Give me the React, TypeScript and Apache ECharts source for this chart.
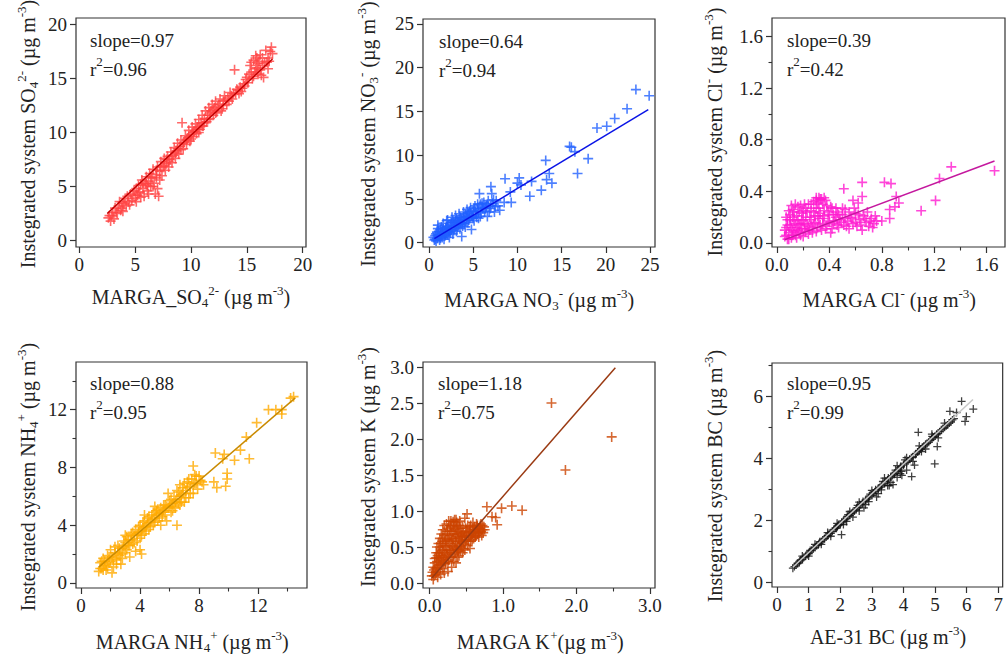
import React, { useEffect, useRef } from 'react';
import * as echarts from 'echarts';

const FONT = '"Liberation Serif", "Times New Roman", serif';
const PLUS = 'path://M4.2,0H5.8V4.2H10V5.8H5.8V10H4.2V5.8H0V4.2H4.2Z';

// ---------- Panel 1: SO4 ----------
const so4XTicks = [0, 5, 10, 15, 20];
const so4YTicks = [0, 5, 10, 15, 20];
const so4Points: number[][] = [
  [2.6,2.1],[2.8,1.8],[2.9,2.3],[3.1,2.0],[3.3,2.6],[3.5,3.2],[3.7,2.8],[3.9,3.5],[4.1,3.9],[4.2,3.2],
  [4.4,3.6],[4.6,4.3],[4.7,3.7],[4.9,4.6],[5.0,3.9],[5.2,4.2],[5.3,5.1],[5.4,4.5],[5.6,5.6],[5.7,4.8],
  [5.8,4.1],[5.9,5.3],[6.0,5.9],[6.1,4.6],[6.2,5.5],[6.3,6.2],[6.4,5.0],[6.5,5.8],[6.6,6.6],[6.7,5.3],
  [6.8,4.3],[6.9,6.1],[7.0,4.8],[7.0,6.8],[7.1,4.1],[7.2,6.4],[7.3,7.3],[7.4,6.0],[7.5,6.9],[7.6,7.6],
  [7.7,6.5],[7.8,7.1],[7.9,7.8],[8.0,6.8],[8.1,7.5],[8.2,8.2],[8.3,7.2],[8.4,7.9],[8.5,8.6],[8.6,7.6],
  [8.7,8.3],[8.8,9.0],[8.9,8.0],[9.0,8.7],[9.1,9.3],[9.2,10.9],[9.3,8.5],[9.4,9.1],[9.5,9.7],[9.6,8.9],
  [9.7,9.5],[9.8,10.2],[9.9,9.2],[10.0,9.8],[10.1,10.5],[10.2,9.6],[10.3,10.1],[10.4,10.8],[10.5,9.9],[10.6,10.5],
  [10.7,11.2],[10.8,10.3],[10.9,10.9],[11.0,11.6],[11.1,10.6],[11.2,11.3],[11.3,12.0],[11.4,11.0],[11.5,11.6],[11.6,12.3],
  [11.7,11.3],[11.8,12.0],[11.9,12.6],[12.0,11.6],[12.1,12.3],[12.2,12.9],[12.3,11.9],[12.5,12.6],[12.6,13.1],[12.8,12.2],
  [12.9,12.9],[13.0,13.4],[13.2,12.6],[13.3,13.2],[13.5,13.7],[13.7,13.1],[13.9,15.8],[14.0,13.6],[14.2,13.9],[14.4,14.2],
  [14.5,13.8],[14.7,14.5],[14.9,14.9],[15.1,14.6],[15.2,15.4],[15.3,16.2],[15.5,15.0],[15.6,16.7],[15.7,15.6],[15.8,17.1],
  [15.9,16.0],[16.0,15.4],[16.1,16.6],[16.2,17.2],[16.3,15.3],[16.4,16.9],[16.5,15.1],[16.6,16.4],[16.7,17.6],[16.9,16.9],
  [17.2,17.9],[17.3,17.3]
];
const so4PointsB: number[][] = [
  [3.0,2.6],[3.2,3.0],[3.4,2.5],[3.6,3.6],[3.8,3.0],[4.0,3.4],[4.3,4.1],[4.5,3.3],[4.8,4.2],[5.1,4.8],
  [5.1,3.6],[5.5,5.2],[5.5,4.0],[5.7,5.3],[6.0,5.2],[6.2,4.3],[6.4,5.9],[6.6,5.0],[6.9,6.5],[7.2,5.6],
  [7.3,6.8],[7.6,6.9],[7.8,7.5],[8.0,7.3],[8.3,7.8],[8.6,8.1],[8.8,8.5],[9.1,8.4],[9.3,9.0],[9.6,9.3],
  [9.8,9.6],[10.0,9.4],[10.2,10.0],[10.5,10.3],[10.7,10.0],[11.0,10.6],[11.2,10.9],[11.5,11.2],[11.7,11.8],[12.0,12.1],
  [12.2,11.8],[12.4,12.4],[12.7,12.0],[12.9,12.5],[13.1,13.0],[13.4,12.9],[13.6,13.4],[13.8,13.6],[14.1,14.0],[14.3,13.6],
  [14.6,14.1],[14.8,14.3],[15.0,15.1],[15.4,15.6],[15.6,15.2],[15.8,15.9],[16.0,16.4],[16.2,15.8],[16.4,16.2],[16.8,16.5],
  [17.0,16.6],[16.9,15.9],[15.9,16.9],[15.4,16.5],[17.1,17.5],[2.7,2.3],[3.9,2.7],[5.3,4.4],[6.1,5.1],[6.9,5.8]
];
const so4Fit: number[][] = [[2.5, 2.5], [17.3, 16.8]];

// ---------- Panel 2: NO3 ----------
const no3XTicks = [0, 5, 10, 15, 20, 25];
const no3YTicks = [0, 5, 10, 15, 20, 25];
const no3Points: number[][] = [
  [0.6,0.3],[0.7,0.8],[0.8,0.2],[0.9,1.2],[1.0,0.5],[1.0,2.0],[1.1,0.9],[1.2,0.3],[1.3,1.5],[1.4,0.7],
  [1.5,1.1],[1.6,2.2],[1.7,0.4],[1.8,1.4],[1.9,0.9],[2.0,1.8],[2.1,2.6],[2.2,1.2],[2.3,0.6],[2.4,2.0],
  [2.5,1.5],[2.6,2.9],[2.7,1.0],[2.8,2.3],[2.9,1.7],[3.0,3.1],[3.1,1.3],[3.2,2.5],[3.3,2.0],[3.4,3.3],
  [3.5,1.6],[3.6,2.8],[3.7,0.7],[3.8,2.2],[3.9,3.5],[4.0,2.6],[4.1,1.8],[4.2,3.0],[4.3,3.8],[4.4,2.3],
  [4.5,3.3],[4.6,2.8],[4.7,4.0],[4.8,1.5],[4.9,3.0],[5.0,3.6],[5.1,2.5],[5.2,4.2],[5.3,3.2],[5.5,3.8],
  [5.6,2.8],[5.7,5.6],[5.8,4.4],[5.9,3.4],[6.0,4.0],[6.2,4.6],[6.3,3.6],[6.5,4.2],[6.6,3.0],[6.7,4.8],
  [6.9,3.9],[7.0,6.4],[7.1,5.6],[7.2,4.5],[7.4,3.5],[7.6,4.8],[7.8,4.2],[8.0,3.7],[8.5,4.6],[8.6,7.3],
  [9.2,5.8],[9.3,4.6],[10.0,6.8],[10.2,7.4],[10.4,6.6],[11.4,5.3],[11.6,7.0],[12.7,6.0],[13.2,9.4],[13.3,7.2],
  [13.6,7.9],[13.9,6.8],[15.9,11.0],[16.1,10.9],[16.5,10.4],[16.8,7.9],[18.0,9.6],[19.0,13.1],[20.1,13.3],[21.0,14.2],
  [22.4,15.3],[23.4,17.5],[24.9,16.8]
];
const no3PointsB: number[][] = [
  [0.5,0.6],[0.7,0.4],[0.8,1.0],[0.9,0.5],[1.1,1.3],[1.2,0.8],[1.3,0.5],[1.4,1.2],[1.5,0.6],[1.6,1.6],
  [1.7,1.1],[1.8,0.8],[1.9,1.7],[2.0,1.2],[2.1,0.9],[2.2,1.9],[2.3,1.5],[2.4,1.1],[2.5,2.3],[2.6,1.8],
  [2.7,2.5],[2.8,1.4],[2.9,2.2],[3.0,1.9],[3.1,2.7],[3.2,1.7],[3.3,2.4],[3.4,2.1],[3.5,2.9],[3.6,2.2],
  [3.7,2.6],[3.8,1.9],[3.9,2.9],[4.0,2.2],[4.1,3.2],[4.2,2.5],[4.3,2.9],[4.5,2.6],[4.6,3.6],[4.8,3.1],
  [5.0,2.8],[5.1,3.9],[5.3,3.5],[5.4,2.9],[5.6,3.6],[5.8,3.0],[6.0,4.5],[6.1,3.9],[6.4,4.0],[6.6,4.4],
  [6.8,3.5],[7.0,4.2],[7.3,4.9],[7.5,4.1],[1.0,1.6],[1.4,1.8],[2.0,2.5],[3.0,2.4],[4.4,3.4],[5.5,4.4]
];
const no3Fit: number[][] = [[0.6, 0.46], [24.8, 15.2]];

// ---------- Panel 3: Cl ----------
const clXTicks = [0, 0.4, 0.8, 1.2, 1.6];
const clXMinor = [0.2, 0.6, 1.0, 1.4];
const clYTicks = [0, 0.4, 0.8, 1.2, 1.6];
const clYMinor = [0.2, 0.6, 1.0, 1.4];
const clPoints: number[][] = [
  [0.06,0.05],[0.07,0.12],[0.08,0.03],[0.08,0.18],[0.09,0.08],[0.10,0.22],[0.10,0.14],[0.11,0.04],[0.12,0.10],[0.12,0.26],
  [0.13,0.17],[0.14,0.06],[0.15,0.21],[0.15,0.12],[0.16,0.28],[0.17,0.08],[0.18,0.15],[0.19,0.23],[0.20,0.05],[0.20,0.18],
  [0.21,0.11],[0.22,0.27],[0.23,0.14],[0.24,0.07],[0.25,0.20],[0.26,0.30],[0.27,0.12],[0.28,0.24],[0.29,0.16],[0.30,0.09],
  [0.30,0.33],[0.31,0.21],[0.32,0.27],[0.33,0.14],[0.34,0.34],[0.35,0.19],[0.36,0.25],[0.37,0.11],[0.38,0.29],[0.39,0.17],
  [0.40,0.22],[0.41,0.08],[0.42,0.27],[0.43,0.15],[0.45,0.20],[0.46,0.24],[0.47,0.12],[0.48,0.18],[0.50,0.22],[0.51,0.14],
  [0.52,0.26],[0.54,0.17],[0.55,0.11],[0.56,0.20],[0.58,0.15],[0.60,0.23],[0.61,0.13],[0.63,0.18],[0.65,0.10],[0.66,0.21],
  [0.68,0.16],[0.70,0.13],[0.72,0.19],[0.74,0.15],[0.33,0.34],[0.51,0.42],[0.58,0.33],[0.62,0.31],[0.65,0.47],[0.65,0.36],
  [0.75,0.21],[0.80,0.17],[0.82,0.47],[0.86,0.19],[0.86,0.26],[0.87,0.46],[0.90,0.28],[0.91,0.36],[0.93,0.31],[1.10,0.25],
  [1.21,0.33],[1.24,0.50],[1.33,0.59],[1.66,0.56]
];
const clPointsB: number[][] = [
  [0.06,0.10],[0.07,0.06],[0.07,0.20],[0.08,0.14],[0.09,0.25],[0.09,0.03],[0.10,0.18],[0.11,0.12],[0.11,0.29],[0.12,0.06],
  [0.12,0.20],[0.13,0.24],[0.13,0.09],[0.14,0.15],[0.14,0.30],[0.15,0.04],[0.16,0.18],[0.16,0.10],[0.17,0.24],[0.17,0.14],
  [0.18,0.06],[0.18,0.29],[0.19,0.11],[0.19,0.18],[0.20,0.25],[0.21,0.15],[0.21,0.30],[0.22,0.09],[0.22,0.20],[0.23,0.24],
  [0.24,0.13],[0.24,0.30],[0.25,0.10],[0.26,0.18],[0.26,0.25],[0.27,0.08],[0.28,0.15],[0.28,0.32],[0.29,0.21],[0.30,0.27],
  [0.31,0.12],[0.32,0.19],[0.32,0.35],[0.33,0.23],[0.34,0.10],[0.35,0.30],[0.35,0.15],[0.36,0.21],[0.37,0.33],[0.38,0.13],
  [0.39,0.24],[0.40,0.16],[0.41,0.28],[0.42,0.11],[0.43,0.22],[0.44,0.17],[0.45,0.27],[0.46,0.14],[0.47,0.22],[0.49,0.16],
  [0.50,0.27],[0.52,0.19],[0.53,0.13],[0.55,0.24],[0.57,0.19],[0.59,0.27],[0.60,0.16],[0.62,0.22],[0.64,0.14],[0.67,0.19],
  [0.69,0.24],[0.71,0.17],[0.73,0.12],[0.76,0.17],[0.30,0.35],[0.31,0.31],[0.36,0.35]
];
const clFit: number[][] = [[0.06, 0.026], [1.66, 0.635]];

// ---------- Panel 4: NH4 ----------
const nh4XTicks = [0, 4, 8, 12];
const nh4XMinor = [2, 6, 10, 14];
const nh4YTicks = [0, 4, 8, 12];
const nh4YMinor = [2, 6, 10, 14];
const nh4Points: number[][] = [
  [1.2,0.8],[1.3,1.4],[1.4,1.0],[1.5,1.7],[1.6,1.2],[1.7,0.9],[1.8,1.9],[1.9,1.4],[2.0,2.3],[2.1,0.7],
  [2.1,1.8],[2.2,1.1],[2.3,2.1],[2.4,1.6],[2.5,2.6],[2.6,1.9],[2.7,1.3],[2.8,2.4],[2.9,2.9],[3.0,2.1],
  [3.1,3.2],[3.2,2.6],[3.3,1.8],[3.4,3.0],[3.5,3.5],[3.6,2.8],[3.7,2.2],[3.8,3.3],[3.9,3.9],[4.0,3.1],
  [4.1,3.6],[4.2,4.2],[4.3,3.4],[4.4,3.9],[4.5,4.5],[4.6,3.7],[4.7,4.2],[4.8,4.7],[4.9,4.0],[5.0,4.5],
  [5.1,5.0],[5.2,4.3],[5.3,4.8],[5.4,5.2],[5.5,4.6],[5.6,5.0],[5.7,5.4],[5.8,4.3],[5.9,5.2],[6.0,5.7],
  [6.1,4.9],[6.2,5.5],[6.3,6.0],[6.4,5.2],[6.5,5.8],[6.6,6.3],[6.7,5.4],[6.8,6.1],[6.9,6.6],[7.0,5.6],
  [7.1,6.4],[7.2,7.0],[7.3,5.9],[7.4,6.7],[7.5,7.2],[7.6,6.2],[7.7,6.9],[7.8,7.4],[7.9,6.5],[8.1,7.1],
  [4.0,2.3],[4.1,2.0],[6.5,4.0],[7.6,8.1],[8.3,6.8],[9.0,7.0],[9.1,9.0],[9.2,6.6],[9.6,8.6],[9.7,8.9],
  [9.8,6.7],[9.9,7.2],[9.9,7.6],[10.4,8.5],[10.8,9.2],[11.2,10.1],[11.4,8.6],[11.9,11.1],[12.7,12.0],[13.2,12.0],
  [13.6,11.7],[13.6,12.0],[14.2,12.8],[14.4,12.9]
];
const nh4PointsB: number[][] = [
  [1.3,1.0],[1.4,1.5],[1.5,0.9],[1.6,1.5],[1.7,1.3],[1.8,1.1],[1.9,1.8],[2.0,1.5],[2.2,1.7],[2.3,2.5],
  [2.4,1.3],[2.5,2.0],[2.6,2.4],[2.7,2.0],[2.8,1.7],[2.9,2.5],[3.0,2.8],[3.1,2.3],[3.2,3.0],[3.3,2.6],
  [3.4,3.4],[3.5,2.7],[3.6,3.3],[3.7,3.7],[3.8,2.9],[3.9,3.5],[4.0,4.0],[4.1,3.3],[4.2,3.8],[4.3,4.3],
  [4.4,3.6],[4.5,4.1],[4.6,4.6],[4.7,3.9],[4.8,4.4],[4.9,4.9],[5.0,4.2],[5.1,4.7],[5.2,5.1],[5.3,4.5],
  [5.5,4.9],[5.6,5.4],[5.7,4.7],[5.8,5.3],[6.0,5.3],[6.1,5.8],[6.2,5.0],[6.4,5.6],[6.5,6.4],[6.6,5.5],
  [6.7,6.0],[6.8,5.6],[6.9,6.2],[7.0,6.9],[7.1,5.9],[7.2,6.6],[7.3,7.2],[7.4,6.2],[7.6,6.8],[7.8,6.9],
  [8.0,7.4],[8.2,7.0],[5.4,4.0],[6.3,5.3],[7.7,7.5],[3.0,3.3],[4.3,4.7],[5.0,5.3],[5.9,6.2],[6.7,6.8]
];
const nh4Fit: number[][] = [[1.2, 1.1], [14.5, 12.8]];

// ---------- Panel 5: K ----------
const kXTicks = [0, 1, 2, 3];
const kXMinor = [0.5, 1.5, 2.5];
const kYTicks = [0, 0.5, 1, 1.5, 2, 2.5, 3];
const kPoints: number[][] = [
  [0.03,0.10],[0.05,0.05],[0.06,0.18],[0.07,0.28],[0.08,0.12],[0.09,0.35],[0.10,0.22],[0.11,0.08],[0.12,0.42],[0.12,0.30],
  [0.13,0.16],[0.14,0.50],[0.15,0.25],[0.16,0.38],[0.17,0.58],[0.18,0.20],[0.18,0.46],[0.19,0.32],[0.20,0.66],[0.21,0.27],
  [0.22,0.52],[0.23,0.40],[0.24,0.72],[0.25,0.30],[0.26,0.60],[0.27,0.45],[0.28,0.80],[0.29,0.36],[0.30,0.68],[0.31,0.52],
  [0.32,0.85],[0.33,0.40],[0.34,0.74],[0.35,0.58],[0.36,0.88],[0.37,0.47],[0.38,0.80],[0.39,0.62],[0.40,0.52],[0.41,0.86],
  [0.42,0.45],[0.43,0.70],[0.44,0.56],[0.45,0.78],[0.46,0.48],[0.47,0.64],[0.48,0.90],[0.49,0.58],[0.50,0.72],[0.51,0.96],
  [0.52,0.52],[0.53,0.66],[0.55,0.78],[0.56,0.58],[0.58,0.70],[0.59,0.84],[0.60,0.62],[0.62,0.74],[0.63,0.66],[0.65,0.80],
  [0.66,0.70],[0.68,0.76],[0.70,0.82],[0.72,0.74],[0.74,0.78],[0.45,0.42],[0.38,0.36],[0.30,0.22],[0.25,0.16],[0.55,0.48],
  [0.78,1.06],[0.85,0.92],[0.90,0.91],[0.92,0.81],[0.98,1.04],[1.12,1.07],[1.26,1.01],[1.66,2.50],[1.85,1.57],[2.48,2.03]
];
const kPointsB: number[][] = [
  [0.04,0.15],[0.05,0.22],[0.06,0.10],[0.07,0.34],[0.08,0.20],[0.09,0.42],[0.09,0.15],[0.10,0.30],[0.10,0.50],[0.11,0.38],
  [0.11,0.20],[0.12,0.55],[0.13,0.35],[0.13,0.25],[0.14,0.62],[0.14,0.42],[0.15,0.32],[0.15,0.55],[0.16,0.68],[0.16,0.25],
  [0.17,0.45],[0.17,0.36],[0.18,0.62],[0.18,0.74],[0.19,0.52],[0.19,0.28],[0.20,0.42],[0.20,0.80],[0.21,0.58],[0.21,0.35],
  [0.22,0.68],[0.22,0.28],[0.23,0.50],[0.23,0.82],[0.24,0.38],[0.24,0.60],[0.25,0.76],[0.25,0.45],[0.26,0.86],[0.26,0.32],
  [0.27,0.66],[0.27,0.55],[0.28,0.42],[0.28,0.72],[0.29,0.58],[0.29,0.86],[0.30,0.46],[0.30,0.78],[0.31,0.62],[0.31,0.36],
  [0.32,0.72],[0.32,0.50],[0.33,0.80],[0.33,0.62],[0.34,0.48],[0.34,0.88],[0.35,0.68],[0.35,0.42],[0.36,0.76],[0.36,0.55],
  [0.37,0.84],[0.37,0.65],[0.38,0.50],[0.38,0.72],[0.39,0.44],[0.40,0.68],[0.40,0.80],[0.41,0.58],[0.42,0.64],[0.42,0.76],
  [0.43,0.50],[0.44,0.66],[0.45,0.60],[0.46,0.70],[0.47,0.54],[0.48,0.66],[0.49,0.76],[0.50,0.60],[0.51,0.68],[0.52,0.80],
  [0.53,0.58],[0.54,0.72],[0.55,0.64],[0.56,0.80],[0.57,0.66],[0.58,0.60],[0.59,0.74],[0.60,0.70],[0.61,0.78],[0.62,0.64],
  [0.63,0.72],[0.64,0.82],[0.65,0.68],[0.66,0.76],[0.67,0.64],[0.68,0.70],[0.69,0.80],[0.70,0.72],[0.71,0.66],[0.72,0.80],
  [0.73,0.70],[0.75,0.74],[0.20,0.14],[0.15,0.12],[0.33,0.30],[0.40,0.38],[0.48,0.46],[0.36,0.28]
];
const kFit: number[][] = [[0.03, 0.07], [2.53, 2.99]];

// ---------- Panel 6: BC ----------
const bcXTicks = [0, 1, 2, 3, 4, 5, 6, 7];
const bcYTicks = [0, 2, 4, 6];
const bcYMinor = [1, 3, 5, 7];
const bcPoints: number[][] = [
  [0.5,0.45],[0.6,0.55],[0.7,0.62],[0.75,0.72],[0.8,0.74],[0.9,0.83],[1.0,0.92],[1.05,1.02],[1.1,1.03],[1.2,1.12],
  [1.3,1.20],[1.35,1.30],[1.4,1.31],[1.5,1.40],[1.6,1.50],[1.65,1.58],[1.7,1.57],[1.8,1.70],[1.9,1.78],[1.95,1.86],
  [2.0,1.86],[2.1,1.98],[2.2,2.06],[2.25,2.18],[2.3,2.15],[2.4,2.26],[2.5,2.34],[2.55,2.48],[2.6,2.42],[2.7,2.55],
  [2.75,2.40],[2.8,2.64],[2.9,2.72],[2.95,2.84],[3.0,2.80],[3.1,2.92],[3.15,2.75],[3.2,3.02],[3.3,3.10],[3.35,3.25],
  [3.4,3.18],[3.5,3.30],[3.55,3.12],[3.6,3.40],[3.7,3.48],[3.75,3.62],[3.8,3.56],[3.9,3.70],[3.95,3.45],[4.0,3.78],
  [4.05,3.95],[4.1,3.86],[4.2,3.98],[4.3,4.05],[4.35,3.78],[4.4,4.15],[4.5,4.25],[4.6,4.36],[4.7,4.45],[4.8,4.52],
  [4.9,4.62],[5.0,4.72],[5.1,4.80],[5.2,4.92],[5.3,5.00],[5.4,5.08],[5.5,5.18],[5.6,5.28],[1.88,1.74],[2.04,1.53],
  [3.67,3.15],[3.94,3.58],[4.26,3.41],[4.47,4.84],[4.57,4.22],[4.91,4.71],[4.99,3.82],[5.07,4.38],[5.47,5.52],[5.68,5.48],
  [5.84,5.84],[5.95,5.19],[5.99,5.35],[6.21,5.59]
];
const bcPointsB: number[][] = [
  [0.55,0.50],[0.65,0.60],[0.72,0.68],[0.85,0.80],[0.95,0.88],[1.02,0.97],[1.15,1.08],[1.25,1.18],[1.32,1.24],[1.45,1.36],
  [1.55,1.46],[1.62,1.52],[1.75,1.64],[1.85,1.74],[1.92,1.82],[2.05,1.94],[2.15,2.02],[2.22,2.12],[2.35,2.22],[2.45,2.30],
  [2.52,2.40],[2.65,2.50],[2.72,2.60],[2.85,2.68],[2.92,2.78],[3.05,2.88],[3.12,2.98],[3.25,3.06],[3.32,3.14],[3.45,3.26],
  [3.52,3.36],[3.65,3.44],[3.72,3.52],[3.85,3.62],[3.92,3.74],[4.02,3.82],[4.15,3.92],[4.25,4.02],[4.38,4.12],[4.45,4.20],
  [4.55,4.30],[4.65,4.40],[4.75,4.48],[4.85,4.58],[4.95,4.68],[5.05,4.78],[5.15,4.86],[5.25,4.96],[5.35,5.05],[5.45,5.14],
  [5.55,5.24],[2.6,2.30],[2.9,2.60],[3.3,2.98],[3.5,3.12],[3.8,3.38],[4.1,3.62],[2.2,1.96],
  [0.8,0.84],[1.0,0.84],[1.2,1.22],[1.4,1.22],[1.6,1.60],[1.7,1.48],[1.9,1.90],[2.1,1.86],[2.3,2.28],[2.4,2.10],
  [2.6,2.58],[2.8,2.50],[3.0,2.96],[3.2,2.86],[3.4,3.36],[3.6,3.22],[3.8,3.76],[3.9,3.50],[4.1,4.02],[4.3,3.90],
  [4.5,4.40],[4.7,4.30],[4.9,4.78],[5.1,4.66],[5.3,5.14]
];
const bcFit: number[][] = [[0.5, 0.48], [6.2, 5.9]];

const SUP = '{sup|';
const SUB = '{sub|';

const panels = [
  {
    frame: [76, 18, 306, 247], xr: [-0.3, 20.3], yr: [-0.6, 20.6],
    xMajor: so4XTicks, xMinor: [] as number[], yMajor: so4YTicks, yMinor: [] as number[], xd: 0, yd: 0,
    pts: so4Points.concat(so4PointsB), fit: so4Fit, pc: '#ff4444', lc: '#c00000', ps: 10,
    slope: 'slope=0.97', r2: '=0.96',
    xTitle: 'MARGA_SO' + SUB + '4}' + SUP + '2-}' + ' (µg m' + SUP + '-3})',
    yTitle: 'Instegrated system SO' + SUB + '4}' + SUP + '2-}' + ' (µg m' + SUP + '-3})',
    xT: [191, 297], yT: [28, 134], an: [90, 40]
  },
  {
    frame: [423, 19, 655, 247], xr: [-0.68, 25.56], yr: [-0.5, 25.57],
    xMajor: no3XTicks, xMinor: [] as number[], yMajor: no3YTicks, yMinor: [] as number[], xd: 0, yd: 0,
    pts: no3Points.concat(no3PointsB), fit: no3Fit, pc: '#2060ff', lc: '#0a14e6', ps: 10,
    slope: 'slope=0.64', r2: '=0.94',
    xTitle: 'MARGA NO' + SUB + '3}' + SUP + '-}' + ' (µg m' + SUP + '-3})',
    yTitle: 'Instegrated system NO' + SUB + '3}' + SUP + '-}' + ' (µg m' + SUP + '-3})',
    xT: [539, 300], yT: [368, 134], an: [439, 41]
  },
  {
    frame: [772, 18, 1005, 247], xr: [-0.038, 1.74], yr: [-0.031, 1.743],
    xMajor: clXTicks, xMinor: clXMinor, yMajor: clYTicks, yMinor: clYMinor, xd: 1, yd: 1,
    pts: clPoints.concat(clPointsB), fit: clFit, pc: '#ff1ad0', lc: '#c4189e', ps: 10,
    slope: 'slope=0.39', r2: '=0.42',
    xTitle: 'MARGA Cl' + SUP + '-}' + ' (µg m' + SUP + '-3})',
    yTitle: 'Instegrated system Cl' + SUP + '-}' + ' (µg m' + SUP + '-3})',
    xT: [889, 300], yT: [715, 132], an: [787, 40]
  },
  {
    frame: [76, 362, 307, 588], xr: [-0.34, 15.31], yr: [-0.35, 15.3],
    xMajor: nh4XTicks, xMinor: nh4XMinor, yMajor: nh4YTicks, yMinor: nh4YMinor, xd: 0, yd: 0,
    pts: nh4Points.concat(nh4PointsB), fit: nh4Fit, pc: '#ffaa00', lc: '#c98a00', ps: 10,
    slope: 'slope=0.88', r2: '=0.95',
    xTitle: 'MARGA NH' + SUB + '4}' + SUP + '+}' + ' (µg m' + SUP + '-3})',
    yTitle: 'Instegrated system NH' + SUB + '4}' + SUP + '+}' + ' (µg m' + SUP + '-3})',
    xT: [192, 642], yT: [28, 477], an: [90, 383]
  },
  {
    frame: [423, 362, 655, 588], xr: [-0.09, 3.07], yr: [-0.069, 3.07],
    xMajor: kXTicks, xMinor: kXMinor, yMajor: kYTicks, yMinor: [] as number[], xd: 1, yd: 1,
    pts: kPoints.concat(kPointsB), fit: kFit, pc: '#cc4400', lc: '#9a3a12', ps: 10,
    slope: 'slope=1.18', r2: '=0.75',
    xTitle: 'MARGA K' + SUP + '+}' + '(µg m' + SUP + '-3})',
    yTitle: 'Instegrated system K (µg m' + SUP + '-3})',
    xT: [540, 642], yT: [368, 467], an: [438, 383]
  },
  {
    frame: [772, 363, 1003, 587], xr: [-0.16, 7.14], yr: [-0.16, 7.08],
    xMajor: bcXTicks, xMinor: [] as number[], yMajor: bcYTicks, yMinor: bcYMinor, xd: 0, yd: 0,
    pts: bcPoints.concat(bcPointsB), fit: bcFit, pc: '#111111', lc: '#c8c8c8', ps: 8,
    slope: 'slope=0.95', r2: '=0.99',
    xTitle: 'AE-31 BC (µg m' + SUP + '-3})',
    yTitle: 'Instegrated system BC (µg m' + SUP + '-3})',
    xT: [888, 637], yT: [715, 476], an: [787, 383]
  }
];

const AX = '#333';
const TXT = '#222';

const titleRich = {
  n: { fontFamily: FONT, fontSize: 20, fill: TXT, color: TXT },
  sup: { fontFamily: FONT, fontSize: 13, padding: [0, 0, 14, 0], color: TXT, fill: TXT },
  sub: { fontFamily: FONT, fontSize: 13, padding: [10, 0, 0, 0], color: TXT, fill: TXT }
};
const annoRich = {
  n: { fontFamily: FONT, fontSize: 19, color: TXT, fill: TXT },
  sup: { fontFamily: FONT, fontSize: 13, padding: [0, 0, 16, 0], color: TXT, fill: TXT }
};

function wrapN(s: string): string {
  const out: string[] = [];
  let i = 0;
  while (i < s.length) {
    if (s[i] === '{') {
      const j = s.indexOf('}', i);
      out.push(s.slice(i, j + 1));
      i = j + 1;
    } else {
      let j = s.indexOf('{', i);
      if (j < 0) j = s.length;
      out.push('{n|' + s.slice(i, j) + '}');
      i = j;
    }
  }
  return out.join('');
}

function buildOption() {
  const grid: any[] = [];
  const xAxis: any[] = [];
  const yAxis: any[] = [];
  const series: any[] = [];
  const graphic: any[] = [];

  panels.forEach((p, i) => {
    const [l, t, r, b] = p.frame;
    grid.push({
      left: l, top: t, width: r - l, height: b - t, show: true,
      borderColor: AX, borderWidth: 1.2, backgroundColor: 'transparent'
    });
    const xi = xAxis.length;
    xAxis.push({
      type: 'value', gridIndex: i, min: p.xr[0], max: p.xr[1], position: 'bottom',
      axisLine: { show: false, onZero: false },
      splitLine: { show: false },
      axisTick: { show: true, inside: false, length: 6, customValues: p.xMajor, lineStyle: { color: AX, width: 1.2 } },
      axisLabel: {
        customValues: p.xMajor, fontFamily: FONT, fontSize: 19, color: TXT, margin: 8,
        formatter: (v: number) => v.toFixed(p.xd)
      }
    });
    const yi = yAxis.length;
    yAxis.push({
      type: 'value', gridIndex: i, min: p.yr[0], max: p.yr[1], position: 'left',
      axisLine: { show: false, onZero: false },
      splitLine: { show: false },
      axisTick: { show: true, inside: false, length: 6, customValues: p.yMajor, lineStyle: { color: AX, width: 1.2 } },
      axisLabel: {
        customValues: p.yMajor, fontFamily: FONT, fontSize: 19, color: TXT, margin: 9,
        formatter: (v: number) => v.toFixed(p.yd)
      }
    });
    if (p.xMinor.length) {
      xAxis.push({
        type: 'value', gridIndex: i, min: p.xr[0], max: p.xr[1], position: 'bottom', offset: 0,
        axisLine: { show: false, onZero: false }, splitLine: { show: false },
        axisTick: { show: true, inside: false, length: 3.5, customValues: p.xMinor, lineStyle: { color: AX, width: 1.1 } },
        axisLabel: { show: false }
      });
    }
    if (p.yMinor.length) {
      yAxis.push({
        type: 'value', gridIndex: i, min: p.yr[0], max: p.yr[1], position: 'left', offset: 0,
        axisLine: { show: false, onZero: false }, splitLine: { show: false },
        axisTick: { show: true, inside: false, length: 3.5, customValues: p.yMinor, lineStyle: { color: AX, width: 1.1 } },
        axisLabel: { show: false }
      });
    }
    series.push({
      type: 'scatter', xAxisIndex: xi, yAxisIndex: yi, data: p.pts,
      symbol: PLUS, symbolSize: p.ps, itemStyle: { color: p.pc }, silent: true, z: 2
    });
    series.push({
      type: 'line', xAxisIndex: xi, yAxisIndex: yi, data: p.fit, symbol: 'none', showSymbol: false,
      lineStyle: { color: p.lc, width: 1.5 }, silent: true, z: 3
    });

    graphic.push({
      type: 'text', x: p.xT[0], y: p.xT[1], silent: true,
      style: { text: wrapN(p.xTitle), rich: titleRich, align: 'center', verticalAlign: 'middle', fontFamily: FONT, fontSize: 20, fill: TXT }
    });
    graphic.push({
      type: 'text', x: p.yT[0], y: p.yT[1], rotation: Math.PI / 2, silent: true,
      style: { text: wrapN(p.yTitle), rich: titleRich, align: 'center', verticalAlign: 'middle', fontFamily: FONT, fontSize: 20, fill: TXT }
    });
    graphic.push({
      type: 'text', x: p.an[0], y: p.an[1], silent: true,
      style: { text: p.slope, align: 'left', verticalAlign: 'middle', fontFamily: FONT, fontSize: 19, fill: TXT }
    });
    graphic.push({
      type: 'text', x: p.an[0], y: p.an[1] + 29, silent: true,
      style: { text: '{n|r}{sup|2}{n|' + p.r2 + '}', rich: annoRich, align: 'left', verticalAlign: 'middle', fontFamily: FONT, fontSize: 19, fill: TXT }
    });
  });

  return { animation: false, backgroundColor: '#ffffff', grid, xAxis, yAxis, series, graphic };
}

export default function App() {
  const ref = useRef<HTMLDivElement>(null);
  useEffect(() => {
    if (!ref.current) return;
    const chart = echarts.init(ref.current, null, { renderer: 'svg' });
    chart.setOption(buildOption() as any);
    return () => chart.dispose();
  }, []);
  return <div ref={ref} style={{ position: 'absolute', left: 0, top: 0, width: 1006, height: 654 }} />;
}
